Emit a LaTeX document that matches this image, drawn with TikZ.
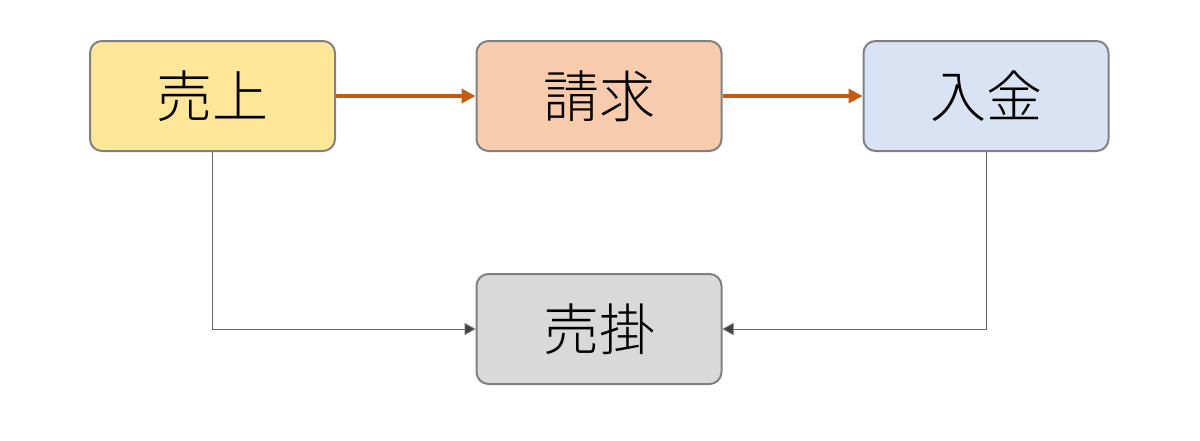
\documentclass[tikz,border=0pt]{standalone}
\usepackage{fontspec}
\newfontfamily\cjk{Noto Sans CJK JP Light}
\usetikzlibrary{arrows.meta}
\definecolor{uriage}{HTML}{FFE699}
\definecolor{seikyu}{HTML}{F8CBAD}
\definecolor{nyukin}{HTML}{DAE3F3}
\definecolor{urikake}{HTML}{D9D9D9}
\definecolor{flow}{HTML}{C55A11}
\tikzset{
  box/.style={draw=black!50, line width=1pt, rounded corners=6pt,
    minimum width=122.5pt, minimum height=55pt, font=\cjk\fontsize{28}{28}\selectfont},
  flowarrow/.style={draw=flow, line width=2pt, -{Triangle[length=7pt,width=7pt]}},
  linkarrow/.style={draw=black!60, line width=0.5pt, -{Triangle[length=5.5pt,width=6pt,fill=black!75]}}
}
\begin{document}
\begin{tikzpicture}[x=1pt,y=1pt]
  \useasboundingbox (0,0) rectangle (600,-220);
  \node[box, fill=uriage] (uriage) at (106.25,-48) {売上};
  \node[box, fill=seikyu] (seikyu) at (299.5,-48) {請求};
  \node[box, fill=nyukin] (nyukin) at (493,-48) {入金};
  \node[box, fill=urikake] (urikake) at (299.5,-164.5) {売掛};

  \draw[flowarrow] (uriage) -- (seikyu);
  \draw[flowarrow] (seikyu) -- (nyukin);
  \draw[linkarrow] (uriage.south) |- (urikake.west);
  \draw[linkarrow] (nyukin.south) |- (urikake.east);
\end{tikzpicture}
\end{document}
